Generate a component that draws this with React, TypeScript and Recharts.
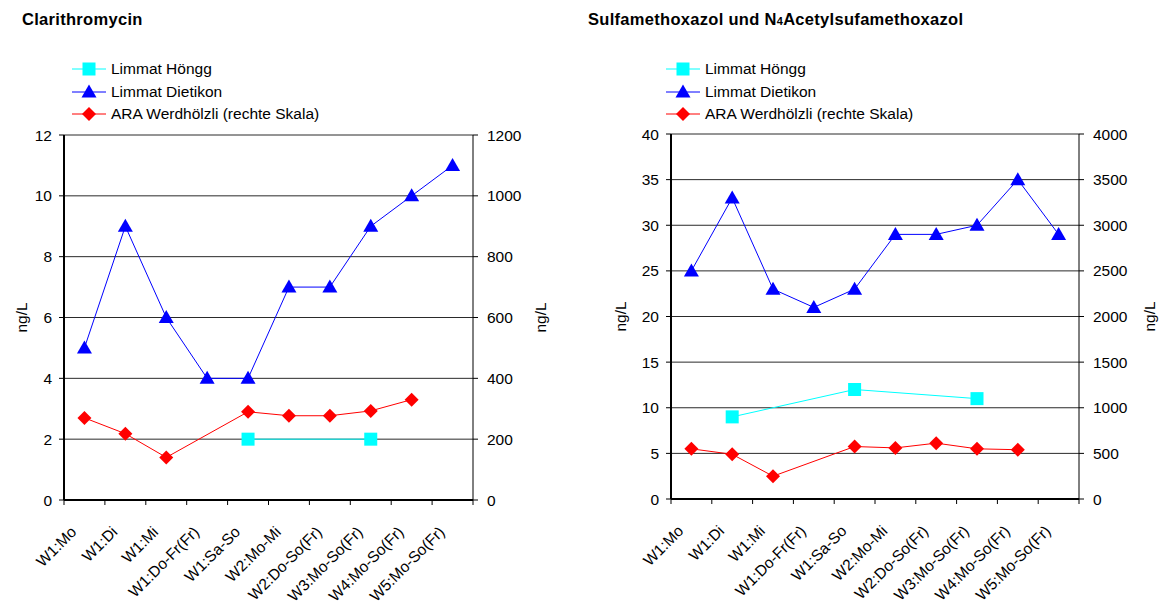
import { CartesianGrid, Legend, Line, LineChart, XAxis, YAxis } from 'recharts'

const CATEGORIES = [
  'W1:Mo',
  'W1:Di',
  'W1:Mi',
  'W1:Do-Fr(Fr)',
  'W1:Sa-So',
  'W2:Mo-Mi',
  'W2:Do-So(Fr)',
  'W3:Mo-So(Fr)',
  'W4:Mo-So(Fr)',
  'W5:Mo-So(Fr)',
]

// Clarithromycin (ng/L)
const CLARI_HOENGG = [null, null, null, null, 2, null, null, 2, null, null]
const CLARI_DIETIKON = [5, 9, 6, 4, 4, 7, 7, 9, 10, 11]
const CLARI_ARA = [270, 218, 140, null, 290, 277, 277, 293, 330, null]
const CLARI_LEFT_TICKS = [0, 2, 4, 6, 8, 10, 12]
const CLARI_RIGHT_TICKS = [0, 200, 400, 600, 800, 1000, 1200]

// Sulfamethoxazol + N4-Acetylsulfamethoxazol (ng/L)
const SULFA_HOENGG = [null, 9, null, null, 12, null, null, 11, null, null]
const SULFA_DIETIKON = [25, 33, 23, 21, 23, 29, 29, 30, 35, 29]
const SULFA_ARA = [550, 490, 250, null, 575, 560, 612, 550, 540, null]
const SULFA_LEFT_TICKS = [0, 5, 10, 15, 20, 25, 30, 35, 40]
const SULFA_RIGHT_TICKS = [0, 500, 1000, 1500, 2000, 2500, 3000, 3500, 4000]

const FONT = '"Liberation Sans", Arial, sans-serif'
const CYAN = '#00FFFF'
const BLUE = '#0000FF'
const RED = '#FF0000'

const SERIES = [
  { key: 'hoengg', name: 'Limmat Höngg', color: CYAN, marker: 'square' },
  { key: 'dietikon', name: 'Limmat Dietikon', color: BLUE, marker: 'triangle' },
  { key: 'ara', name: 'ARA Werdhölzli (rechte Skala)', color: RED, marker: 'diamond' },
]

const buildRows = (hoengg: (number | null)[], dietikon: number[], ara: (number | null)[]) =>
  CATEGORIES.map((cat, i) => ({ cat, hoengg: hoengg[i], dietikon: dietikon[i], ara: ara[i] }))

const clariData = buildRows(CLARI_HOENGG, CLARI_DIETIKON, CLARI_ARA)
const sulfaData = buildRows(SULFA_HOENGG, SULFA_DIETIKON, SULFA_ARA)

const Marker = ({ type, cx, cy, color }: { type: string; cx: number; cy: number; color: string }) => {
  if (type === 'square') {
    return <rect x={cx - 6.5} y={cy - 6.5} width={13} height={13} fill={color} />
  }
  if (type === 'triangle') {
    return <polygon points={`${cx},${cy - 7.5} ${cx + 7.5},${cy + 5.5} ${cx - 7.5},${cy + 5.5}`} fill={color} />
  }
  return <polygon points={`${cx},${cy - 7} ${cx + 7},${cy} ${cx},${cy + 7} ${cx - 7},${cy}`} fill={color} />
}

const dotFor = (type: string, color: string) => (p: any) => {
  if (p.value == null || p.cy == null || p.cx == null) return <g key={`d-${p.index}`} />
  return (
    <g key={`d-${p.index}`}>
      <Marker type={type} cx={p.cx} cy={p.cy} color={color} />
    </g>
  )
}

const LegendBox = () => (
  <div style={{ fontFamily: FONT, fontSize: 15.5, color: '#000' }}>
    {SERIES.map((s) => (
      <div key={s.key} style={{ display: 'flex', alignItems: 'center', height: 22.5 }}>
        <svg width={34} height={16} style={{ display: 'block' }}>
          <line x1={0} x2={34} y1={8} y2={8} stroke={s.color} strokeWidth={1} />
          <Marker type={s.marker} cx={17} cy={8} color={s.color} />
        </svg>
        <span style={{ marginLeft: 5, whiteSpace: 'nowrap' }}>{s.name}</span>
      </div>
    ))}
  </div>
)

// ticks sit between categories (Excel style), labels hang off each category
const makeCategoryTick = (bottom: number, band: number) => (props: any) => {
  const { x, payload, index, visibleTicksCount } = props
  const half = payload?.offset || band / 2
  const lx = x - 7
  const ly = bottom + 33
  return (
    <g>
      <line x1={x - half} x2={x - half} y1={bottom} y2={bottom + 5} stroke="#000" />
      {index === visibleTicksCount - 1 && (
        <line x1={x + half} x2={x + half} y1={bottom} y2={bottom + 5} stroke="#000" />
      )}
      <text
        x={lx}
        y={ly}
        textAnchor="end"
        transform={`rotate(-45 ${lx} ${ly})`}
        fontSize={15.5}
        fontFamily={FONT}
        fill="#000"
      >
        {payload.value}
      </text>
    </g>
  )
}

type PanelProps = {
  data: ReturnType<typeof buildRows>
  width: number
  plotLeft: number
  plotRight: number
  plotTop: number
  plotBottom: number
  leftTicks: number[]
  rightTicks: number[]
  rightAxisWidth: number
  leftLabelOffset: number
  rightLabelOffset: number
  legendLeft: number
}

const Panel = ({
  data,
  width,
  plotLeft,
  plotRight,
  plotTop,
  plotBottom,
  leftTicks,
  rightTicks,
  rightAxisWidth,
  leftLabelOffset,
  rightLabelOffset,
  legendLeft,
}: PanelProps) => {
  const height = 609
  const leftAxisWidth = 50
  const xAxisHeight = 100
  const tickStyle = { fontSize: 15.5, fill: '#000', fontFamily: FONT }
  const band = (plotRight - plotLeft) / CATEGORIES.length
  return (
    <LineChart
      width={width}
      height={height}
      data={data}
      margin={{
        top: plotTop,
        left: plotLeft - leftAxisWidth,
        right: width - plotRight - rightAxisWidth,
        bottom: height - plotBottom - xAxisHeight,
      }}
    >
      <CartesianGrid yAxisId="l" vertical={false} stroke="#2a2a2a" strokeWidth={1} />
      <XAxis
        dataKey="cat"
        interval={0}
        height={xAxisHeight}
        padding={{ left: band / 2, right: band / 2 }}
        tickLine={false}
        axisLine={{ stroke: '#000', strokeWidth: 2 }}
        tick={makeCategoryTick(plotBottom, band)}
      />
      <YAxis
        yAxisId="l"
        width={leftAxisWidth}
        domain={[leftTicks[0], leftTicks[leftTicks.length - 1]]}
        ticks={leftTicks}
        interval={0}
        tickSize={5}
        tickMargin={7}
        tickLine={{ stroke: '#000' }}
        axisLine={{ stroke: '#000', strokeWidth: 2 }}
        tick={tickStyle}
        label={{
          value: 'ng/L',
          angle: -90,
          position: 'insideLeft',
          offset: leftLabelOffset,
          style: { textAnchor: 'middle', fontSize: 15.5, fill: '#000', fontFamily: FONT },
        }}
      />
      <YAxis
        yAxisId="r"
        orientation="right"
        width={rightAxisWidth}
        domain={[rightTicks[0], rightTicks[rightTicks.length - 1]]}
        ticks={rightTicks}
        interval={0}
        tickSize={5}
        tickMargin={9}
        tickLine={{ stroke: '#000' }}
        axisLine={{ stroke: '#000', strokeWidth: 1 }}
        tick={tickStyle}
        label={{
          value: 'ng/L',
          angle: -90,
          position: 'insideRight',
          offset: rightLabelOffset,
          style: { textAnchor: 'middle', fontSize: 15.5, fill: '#000', fontFamily: FONT },
        }}
      />
      <Legend
        layout="horizontal"
        verticalAlign="middle"
        align="center"
        content={() => <LegendBox />}
        wrapperStyle={{ left: legendLeft, top: 58, width: 320 }}
      />
      <Line
        yAxisId="l"
        dataKey="hoengg"
        name="Limmat Höngg"
        stroke={CYAN}
        strokeWidth={1}
        connectNulls
        dot={dotFor('square', CYAN)}
        activeDot={false}
        isAnimationActive={false}
      />
      <Line
        yAxisId="l"
        dataKey="dietikon"
        name="Limmat Dietikon"
        stroke={BLUE}
        strokeWidth={1}
        connectNulls
        dot={dotFor('triangle', BLUE)}
        activeDot={false}
        isAnimationActive={false}
      />
      <Line
        yAxisId="r"
        dataKey="ara"
        name="ARA Werdhölzli (rechte Skala)"
        stroke={RED}
        strokeWidth={1}
        connectNulls
        dot={dotFor('diamond', RED)}
        activeDot={false}
        isAnimationActive={false}
      />
    </LineChart>
  )
}

const App = () => (
  <div
    style={{
      position: 'absolute',
      left: 0,
      top: 0,
      width: 1160,
      height: 609,
      background: '#fff',
      overflow: 'hidden',
    }}
  >
    <div style={{ position: 'absolute', left: 0, top: 0 }}>
      <Panel
        data={clariData}
        width={580}
        plotLeft={64}
        plotRight={473}
        plotTop={135}
        plotBottom={500}
        leftTicks={CLARI_LEFT_TICKS}
        rightTicks={CLARI_RIGHT_TICKS}
        rightAxisWidth={75}
        leftLabelOffset={7}
        rightLabelOffset={8}
        legendLeft={72}
      />
    </div>
    <div style={{ position: 'absolute', left: 580, top: 0 }}>
      <Panel
        data={sulfaData}
        width={580}
        plotLeft={91}
        plotRight={499}
        plotTop={134}
        plotBottom={499}
        leftTicks={SULFA_LEFT_TICKS}
        rightTicks={SULFA_RIGHT_TICKS}
        rightAxisWidth={60}
        leftLabelOffset={-1}
        rightLabelOffset={-10}
        legendLeft={86}
      />
    </div>
    <svg
      width={1160}
      height={609}
      style={{ position: 'absolute', left: 0, top: 0, pointerEvents: 'none' }}
    >
      <text x={22} y={25} fontFamily={FONT} fontWeight="bold" fontSize={16.5} letterSpacing={0.3} fill="#000">
        Clarithromycin
      </text>
      <text x={588} y={25} fontFamily={FONT} fontWeight="bold" fontSize={16.5} letterSpacing={0.3} fill="#000">
        Sulfamethoxazol und N<tspan fontSize={11}>4</tspan>Acetylsufamethoxazol
      </text>
    </svg>
  </div>
)

export default App
